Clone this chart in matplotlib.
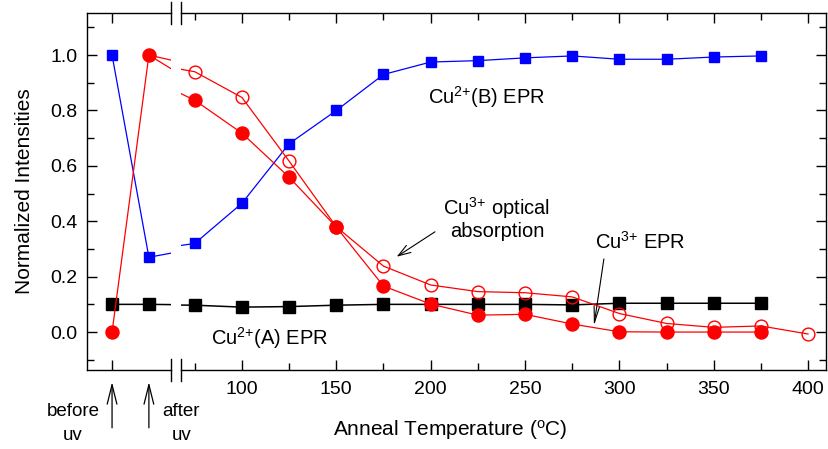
import matplotlib
matplotlib.use("Agg")
import matplotlib.pyplot as plt
from matplotlib.lines import Line2D
from matplotlib.ticker import MultipleLocator, FixedLocator, NullFormatter, FormatStrFormatter

plt.rcParams["font.family"] = ["Liberation Sans", "DejaVu Sans"]
plt.rcParams["mathtext.fontset"] = "custom"
plt.rcParams["mathtext.rm"] = "Liberation Sans"
plt.rcParams["mathtext.it"] = "Liberation Sans:italic"
plt.rcParams["mathtext.bf"] = "Liberation Sans:bold"

# ---- data -------------------------------------------------------------
stages = ["before\nuv", "after\nuv"]
temps = [75, 100, 125, 150, 175, 200, 225, 250, 275, 300, 325, 350, 375]
temps_opt = [75, 100, 125, 150, 175, 200, 225, 250, 275, 300, 325, 350, 375, 400]

cu2b_stage = [1.00, 0.27]
cu2b = [0.32, 0.465, 0.68, 0.80, 0.93, 0.975, 0.98, 0.99, 0.997, 0.985, 0.985, 0.993, 0.997]

cu2a_stage = [0.10, 0.10]
cu2a = [0.097, 0.09, 0.092, 0.097, 0.10, 0.10, 0.10, 0.10, 0.098, 0.104, 0.104, 0.104, 0.104]

cu3epr_stage = [0.00, 1.00]
cu3epr = [0.837, 0.718, 0.559, 0.379, 0.166, 0.101, 0.061, 0.064, 0.029, 0.001, 0.0, 0.0, 0.0]

cu3opt_after = 1.00
cu3opt = [0.94, 0.847, 0.617, 0.38, 0.238, 0.17, 0.146, 0.142, 0.127, 0.067, 0.031, 0.017, 0.022, -0.007]

# positions on the two halves of the broken axis
stage_pos = [0, 1]
next_stage_pos = 3        # where the first anneal step sits on the stage axis
room_temp = 25            # after-uv sample sits at room temperature

BLUE, RED, BLACK = "#0000ff", "#ff0000", "#000000"

W, H = 829, 449
fig = plt.figure(figsize=(W / 100, H / 100), dpi=100)
y0, h = 1 - 370 / H, 357 / H
axL = fig.add_axes([87 / W, y0, 84 / W, h])
axR = fig.add_axes([181 / W, y0, 645 / W, h])

ylim = (-0.137, 1.152)
for ax in (axL, axR):
    ax.set_ylim(*ylim)
    for s in ax.spines.values():
        s.set_linewidth(1.0)
axL.set_xlim(-0.68, 1.6)
axR.set_xlim(67.7, 409.5)
axL.spines["right"].set_visible(False)
axR.spines["left"].set_visible(False)

sq_b = dict(marker="s", ms=7.6, mec=BLUE, mfc=BLUE)
sq_k = dict(marker="s", ms=9.0, mec=BLACK, mfc=BLACK)
ci_f = dict(marker="o", ms=9.4, mec=RED, mfc=RED)
ci_o = dict(marker="o", ms=9.2, mec=RED, mfc="none", mew=1.0)

# left half: before / after uv, lines run on toward the first anneal step
xs_L = stage_pos + [next_stage_pos]
axL.plot(xs_L, cu2a_stage + [cu2a[0]], color=BLACK, lw=1.1, zorder=2, markevery=[0, 1], **sq_k)
axL.plot(xs_L, cu2b_stage + [cu2b[0]], color=BLUE, lw=0.9, zorder=3, markevery=[0, 1], **sq_b)
axL.plot(xs_L, cu3epr_stage + [cu3epr[0]], color=RED, lw=0.9, zorder=4, markevery=[0, 1], **ci_f)
axL.plot([stage_pos[1], next_stage_pos], [cu3opt_after, cu3opt[0]], color=RED, lw=0.9, zorder=4)

# right half: anneal temperatures, lines come in from the after-uv state
axR.plot([room_temp] + temps, [cu2a_stage[1]] + cu2a, color=BLACK, lw=1.1, zorder=2,
         markevery=list(range(1, len(temps) + 1)), **sq_k)
axR.plot([room_temp] + temps, [cu2b_stage[1]] + cu2b, color=BLUE, lw=0.9, zorder=3,
         markevery=list(range(1, len(temps) + 1)), **sq_b)
axR.plot([room_temp] + temps, [cu3epr_stage[1]] + cu3epr, color=RED, lw=0.9, zorder=4,
         markevery=list(range(1, len(temps) + 1)), **ci_f)
axR.plot([room_temp] + temps_opt, [cu3opt_after] + cu3opt, color=RED, lw=0.9, zorder=5,
         markevery=list(range(1, len(temps_opt) + 1)), **ci_o)

# ticks
tick_kw = dict(direction="in", width=1.0, labelsize=14, colors="black")
axL.yaxis.set_major_locator(MultipleLocator(0.2))
axL.yaxis.set_minor_locator(MultipleLocator(0.1))
axL.yaxis.set_major_formatter(FormatStrFormatter("%.1f"))
axL.xaxis.set_major_locator(FixedLocator([stage_pos[0]]))
axL.xaxis.set_major_formatter(NullFormatter())
axL.tick_params(axis="both", which="major", length=7.2, top=True, right=False, pad=7, **tick_kw)
axL.tick_params(axis="both", which="minor", length=5, top=True, right=False, **tick_kw)

axR.yaxis.set_major_locator(MultipleLocator(0.2))
axR.yaxis.set_minor_locator(MultipleLocator(0.1))
axR.xaxis.set_major_locator(MultipleLocator(50))
axR.xaxis.set_minor_locator(FixedLocator([75, 125, 175, 225, 275, 325, 375]))
axR.xaxis.set_major_formatter(FormatStrFormatter("%d"))
axR.tick_params(axis="both", which="major", length=7.2, top=True, left=False, right=True,
                labelleft=False, pad=8, **tick_kw)
axR.tick_params(axis="both", which="minor", length=5, top=True, left=False, right=True, **tick_kw)

# break marks on the x axis
for ax, xb in ((axL, 1.0), (axR, 0.0)):
    for yb in (0.0, 1.0):
        ax.add_line(Line2D([xb, xb], [yb - 0.03, yb + 0.03], transform=ax.transAxes,
                           color=BLACK, lw=1.0, clip_on=False))

# axis titles
fig.text(25 / W, 1 - 191 / H, "Normalized Intensities", rotation=90, ha="center", va="center",
         fontsize=15)
fig.text(450 / W, 1 - 436 / H, r"Anneal Temperature ($^\mathregular{o}$C)", ha="center",
         va="baseline", fontsize=15)

# series labels
lab = dict(fontsize=14.5, color="black")
axR.text(198.6, 0.823, r"Cu$^{2{+}}$(B) EPR", ha="left", va="baseline", **lab)
axR.text(235.1, 0.422, r"Cu$^{3{+}}$ optical", ha="center", va="baseline", **lab)
axR.text(235.1, 0.343, "absorption", ha="center", va="baseline", **lab)
axR.text(287.1, 0.300, r"Cu$^{3{+}}$ EPR", ha="left", va="baseline", **lab)
axR.text(83.6, -0.047, r"Cu$^{2{+}}$(A) EPR", ha="left", va="baseline", **lab)

arrow = dict(arrowstyle="->,head_length=0.9,head_width=0.3", color=BLACK, lw=0.8,
             shrinkA=0, shrinkB=0, mutation_scale=10)
axR.annotate("", xy=(182.0, 0.272), xytext=(202.3, 0.362), arrowprops=arrow)
axR.annotate("", xy=(286.5, 0.022), xytext=(291.8, 0.264),
             arrowprops=dict(arrow, arrowstyle="->,head_length=1.2,head_width=0.2"))

# stage markers below the axis
up = dict(arrowstyle="->,head_length=1.4,head_width=0.35", color=BLACK, lw=0.9,
          shrinkA=0, shrinkB=0, mutation_scale=10)
stage_text_x = [-1.06, 1.875]
for xp, xt, name in zip(stage_pos, stage_text_x, stages):
    axL.annotate("", xy=(xp, -0.034), xytext=(xp, -0.162),
                 xycoords=("data", "axes fraction"), textcoords=("data", "axes fraction"),
                 arrowprops=up, annotation_clip=False)
    top, bottom = name.split("\n")
    axL.text(xt, -0.129, top, transform=axL.get_xaxis_transform(), ha="center",
             va="baseline", fontsize=13.5, clip_on=False)
    axL.text(xt, -0.196, bottom, transform=axL.get_xaxis_transform(), ha="center",
             va="baseline", fontsize=13.5, clip_on=False)

fig.savefig("out.png", dpi=100)
